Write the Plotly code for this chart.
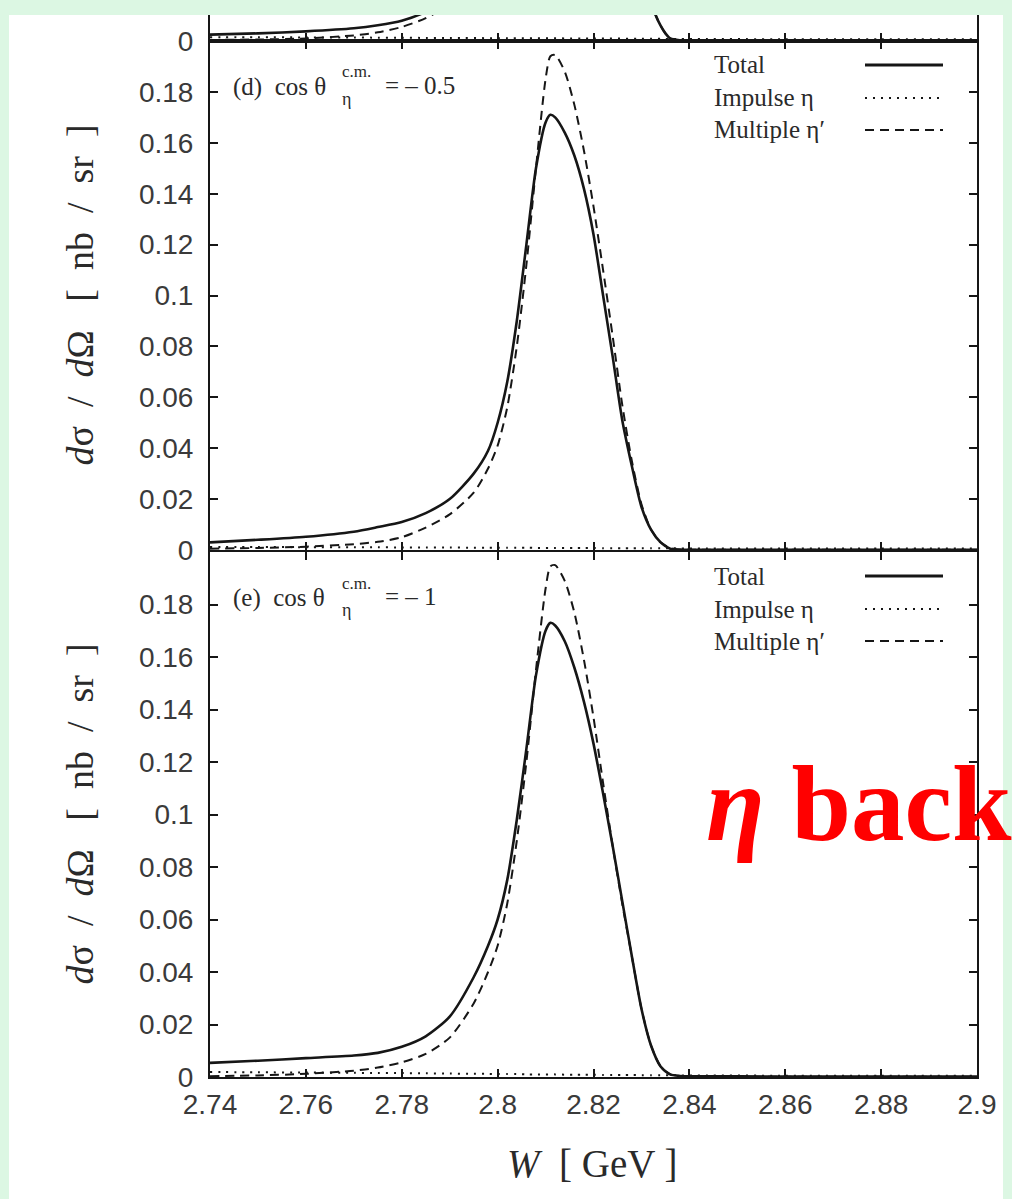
import plotly.graph_objects as go

# ---------------------------------------------------------------------------
# Axis ticks
# ---------------------------------------------------------------------------
W_TICKS = [2.74, 2.76, 2.78, 2.80, 2.82, 2.84, 2.86, 2.88, 2.90]
W_TICK_TEXT = ["2.74", "2.76", "2.78", "2.8", "2.82", "2.84", "2.86", "2.88", "2.9"]
Y_TICKS = [0.0, 0.02, 0.04, 0.06, 0.08, 0.10, 0.12, 0.14, 0.16, 0.18]
Y_TICK_TEXT = ["0", "0.02", "0.04", "0.06", "0.08", "0.1", "0.12", "0.14", "0.16", "0.18"]

# ---------------------------------------------------------------------------
# Panel (c): only the lowest slice of this panel is shown
# ---------------------------------------------------------------------------
w_c = [2.74, 2.75, 2.76, 2.77, 2.775, 2.78, 2.785, 2.79, 2.80, 2.82,
       2.83, 2.832, 2.833, 2.834, 2.835, 2.836, 2.838, 2.84, 2.86, 2.88, 2.90]
total_c = [0.0025, 0.0030, 0.0038, 0.0050, 0.0062, 0.0080, 0.0115, 0.018, 0.05, 0.12,
           0.030, 0.016, 0.010, 0.006, 0.003, 0.001, 0.0003, 0.0002, 0.0001, 0.0001, 0.0001]
impulse_c = [0.0015, 0.0015, 0.0014, 0.0014, 0.0013, 0.0013, 0.0012, 0.0012, 0.0011, 0.0010,
             0.0009, 0.0009, 0.0009, 0.0009, 0.0008, 0.0008, 0.0008, 0.0008, 0.0007, 0.0007, 0.0007]
multiple_c = [0.0004, 0.0006, 0.0010, 0.0022, 0.0034, 0.0055, 0.0090, 0.015, 0.05, 0.13,
              0.030, 0.016, 0.010, 0.006, 0.003, 0.001, 0.0002, 0.0001, 0.0001, 0.0001, 0.0001]

# ---------------------------------------------------------------------------
# Panel (d): cos theta = -0.5
# ---------------------------------------------------------------------------
w_d = [2.74, 2.75, 2.76, 2.77, 2.775, 2.78, 2.785, 2.79, 2.795, 2.798,
       2.80, 2.802, 2.804, 2.806, 2.808, 2.81, 2.811, 2.812, 2.814, 2.816,
       2.818, 2.82, 2.822, 2.824, 2.826, 2.828, 2.83, 2.832, 2.834, 2.836,
       2.838, 2.84, 2.86, 2.88, 2.90]
total_d = [0.0030, 0.0040, 0.0052, 0.0072, 0.0090, 0.0110, 0.0145, 0.0200, 0.0300, 0.0390,
           0.0500, 0.0660, 0.0900, 0.1200, 0.1500, 0.1680, 0.1710, 0.1700, 0.1640, 0.1550,
           0.1420, 0.1240, 0.1000, 0.0760, 0.0510, 0.0330, 0.0170, 0.0080, 0.0030, 0.0005,
           0.0002, 0.0001, 0.0001, 0.0001, 0.0001]
impulse_d = [0.0012, 0.0012, 0.0011, 0.0011, 0.0011, 0.0010, 0.0010, 0.0010, 0.0009, 0.0009,
             0.0009, 0.0009, 0.0009, 0.0009, 0.0008, 0.0008, 0.0008, 0.0008, 0.0008, 0.0008,
             0.0008, 0.0008, 0.0007, 0.0007, 0.0007, 0.0007, 0.0007, 0.0007, 0.0007, 0.0007,
             0.0006, 0.0006, 0.0006, 0.0006, 0.0006]
multiple_d = [0.0005, 0.0008, 0.0013, 0.0023, 0.0032, 0.0050, 0.0088, 0.0140, 0.0225, 0.0320,
              0.0410, 0.0560, 0.0800, 0.1120, 0.1500, 0.1850, 0.1940, 0.1945, 0.1880, 0.1750,
              0.1570, 0.1350, 0.1100, 0.0840, 0.0570, 0.0350, 0.0180, 0.0080, 0.0030, 0.0008,
              0.0001, 0.0001, 0.0001, 0.0001, 0.0001]

# ---------------------------------------------------------------------------
# Panel (e): cos theta = -1
# ---------------------------------------------------------------------------
w_e = [2.74, 2.75, 2.76, 2.77, 2.775, 2.78, 2.785, 2.79, 2.795, 2.798,
       2.80, 2.802, 2.804, 2.806, 2.808, 2.81, 2.811, 2.812, 2.814, 2.816,
       2.818, 2.82, 2.822, 2.824, 2.826, 2.828, 2.83, 2.832, 2.834, 2.836,
       2.838, 2.84, 2.86, 2.88, 2.90]
total_e = [0.0054, 0.0062, 0.0072, 0.0082, 0.0092, 0.0115, 0.0155, 0.0230, 0.0380, 0.0500,
           0.0600, 0.0750, 0.0980, 0.1250, 0.1530, 0.1700, 0.1730, 0.1720, 0.1660, 0.1560,
           0.1430, 0.1270, 0.1080, 0.0880, 0.0670, 0.0460, 0.0260, 0.0120, 0.0040, 0.0010,
           0.0004, 0.0003, 0.0002, 0.0002, 0.0002]
impulse_e = [0.0019, 0.0018, 0.0017, 0.0016, 0.0015, 0.0015, 0.0014, 0.0013, 0.0012, 0.0012,
             0.0011, 0.0011, 0.0011, 0.0010, 0.0010, 0.0010, 0.0010, 0.0010, 0.0009, 0.0009,
             0.0009, 0.0009, 0.0008, 0.0008, 0.0008, 0.0008, 0.0007, 0.0007, 0.0007, 0.0007,
             0.0006, 0.0006, 0.0005, 0.0005, 0.0005]
multiple_e = [0.0003, 0.0006, 0.0012, 0.0024, 0.0036, 0.0056, 0.0088, 0.0150, 0.0280, 0.0400,
              0.0500, 0.0660, 0.0900, 0.1200, 0.1550, 0.1860, 0.1945, 0.1950, 0.1890, 0.1770,
              0.1590, 0.1370, 0.1120, 0.0880, 0.0660, 0.0460, 0.0260, 0.0120, 0.0040, 0.0010,
              0.0002, 0.0001, 0.0001, 0.0001, 0.0001]

SERIES_NAMES = ["Total", "Impulse η", "Multiple η′"]

# ---------------------------------------------------------------------------
# Page geometry (pixels) and styling
# ---------------------------------------------------------------------------
FIG_W, FIG_H = 1012, 1199


def fx(px):
    return px / FIG_W


def fy(px):
    return 1 - px / FIG_H


X_DOMAIN = [fx(210), fx(977)]
PANEL_PX = {"c": (15, 41), "d": (41, 550), "e": (552, 1077)}

INK = "#161616"
TEXT = "#2a2a2a"
SERIF = "Liberation Serif, Times New Roman, serif"
SANS = "Liberation Sans, Arial, sans-serif"

LINE_STYLES = [
    dict(color=INK, width=2.6, dash="solid"),
    dict(color=INK, width=2.0, dash="2px,6px"),
    dict(color=INK, width=2.0, dash="9px,6px"),
]

fig = go.Figure()

panels = [
    ("c", "x", "y", w_c, [total_c, impulse_c, multiple_c]),
    ("d", "x2", "y2", w_d, [total_d, impulse_d, multiple_d]),
    ("e", "x3", "y3", w_e, [total_e, impulse_e, multiple_e]),
]

for key, xa, ya, w, series in panels:
    for name, vals, style in zip(SERIES_NAMES, series, LINE_STYLES):
        fig.add_trace(go.Scatter(
            x=w, y=vals, mode="lines", name=name, showlegend=False,
            xaxis=xa, yaxis=ya,
            line=dict(shape="spline", smoothing=0.7, **style),
        ))

axis_common = dict(
    showline=True, linecolor=INK, linewidth=2, showgrid=False, zeroline=False,
    ticks="inside", ticklen=8, tickwidth=1.5, tickcolor=INK, automargin=False,
)
tick_font = dict(family=SANS, size=28, color="#3a3a3a")

layout_axes = {}
for i, key in enumerate(["c", "d", "e"]):
    top, bottom = PANEL_PX[key]
    sx = "" if i == 0 else str(i + 1)
    layout_axes["xaxis" + sx] = dict(
        axis_common, domain=X_DOMAIN, anchor="y" + sx, range=[2.74, 2.90],
        tickvals=W_TICKS, ticktext=W_TICK_TEXT,
        showticklabels=(key == "e"), tickfont=tick_font, ticklabelstandoff=1,
        mirror=(False if key == "c" else "ticks"),
    )
    if key == "c":
        yrange = [0, (bottom - top) / 2545.0]
        yticks, ytext = [0.0], ["0"]
    else:
        yrange = [0, 0.2]
        yticks, ytext = Y_TICKS, Y_TICK_TEXT
    layout_axes["yaxis" + sx] = dict(
        axis_common, domain=[fy(bottom), fy(top)], anchor="x" + sx, range=yrange,
        tickvals=yticks, ticktext=ytext, tickfont=tick_font,
        ticklabelstandoff=9, mirror="ticks",
    )

fig.update_layout(**layout_axes)

# ---------------------------------------------------------------------------
# Panel labels, keys and axis titles
# ---------------------------------------------------------------------------
annotations = []
shapes = []

# white sheet over the mint background
shapes.append(dict(type="rect", xref="paper", yref="paper", layer="below",
                   x0=fx(9), x1=fx(1003), y0=0, y1=fy(15),
                   fillcolor="white", line=dict(width=0)))

panel_text = {"d": ("(d)", "= – 0.5"), "e": ("(e)", "= – 1")}
for key, sx in [("d", "2"), ("e", "3")]:
    top, bottom = PANEL_PX[key]
    h = bottom - top
    xr, yr = "x" + sx + " domain", "y" + sx + " domain"

    def dy(off, h=h):
        return 1 - off / h

    def dx(off):
        return off / 767.0

    tag, rhs = panel_text[key]
    annotations += [
        dict(xref=xr, yref=yr, x=dx(21), y=dy(46), xanchor="left", yanchor="middle",
             text=tag + "  cos θ", showarrow=False,
             font=dict(family=SERIF, size=25, color=TEXT)),
        dict(xref=xr, yref=yr, x=dx(130), y=dy(31), xanchor="left", yanchor="middle",
             text="c.m.", showarrow=False,
             font=dict(family=SERIF, size=17, color=TEXT)),
        dict(xref=xr, yref=yr, x=dx(130), y=dy(58), xanchor="left", yanchor="middle",
             text="η", showarrow=False,
             font=dict(family=SERIF, size=18, color=TEXT)),
        dict(xref=xr, yref=yr, x=dx(173), y=dy(44), xanchor="left", yanchor="middle",
             text=rhs, showarrow=False,
             font=dict(family=SERIF, size=25, color=TEXT)),
    ]

    # key: text on the left, line sample on the right
    for j, (name, style) in enumerate(zip(SERIES_NAMES, LINE_STYLES)):
        off = [24, 57, 89][j]
        annotations.append(dict(
            xref=xr, yref=yr, x=dx(502), y=dy(off), xanchor="left", yanchor="middle",
            text=name, showarrow=False,
            font=dict(family=SERIF, size=25, color=TEXT)))
        shapes.append(dict(
            type="line", xref=xr, yref=yr, x0=dx(655), x1=dx(733), y0=dy(off), y1=dy(off),
            line=dict(color=style["color"], width=style["width"] + (0.4 if j == 0 else 0),
                      dash=style["dash"])))

    # y-axis title
    annotations.append(dict(
        xref="paper", yref="paper", x=fx(79), y=fy((top + bottom) / 2),
        xanchor="center", yanchor="middle", textangle=-90, showarrow=False,
        text="<i>d</i>σ  /  <i>d</i>Ω   [  nb  /  sr  ]",
        font=dict(family=SERIF, size=38, color=TEXT)))

# x-axis title
annotations.append(dict(
    xref="paper", yref="paper", x=fx(592), y=fy(1163), xanchor="center", yanchor="middle",
    text="<i>W</i>  [ GeV ]", showarrow=False,
    font=dict(family=SERIF, size=39, color=TEXT)))

# slide caption
annotations.append(dict(
    xref="paper", yref="paper", x=fx(704), y=fy(804), xanchor="left", yanchor="middle",
    text="<b><i>η</i> back</b>", showarrow=False,
    font=dict(family=SERIF, size=107, color="#ff0000")))

fig.update_layout(
    width=FIG_W, height=FIG_H,
    margin=dict(l=0, r=0, t=0, b=0, autoexpand=False),
    paper_bgcolor="#dcf7e3",
    plot_bgcolor="white",
    showlegend=False,
    annotations=annotations,
    shapes=shapes,
)

fig.write_html("out.html")
